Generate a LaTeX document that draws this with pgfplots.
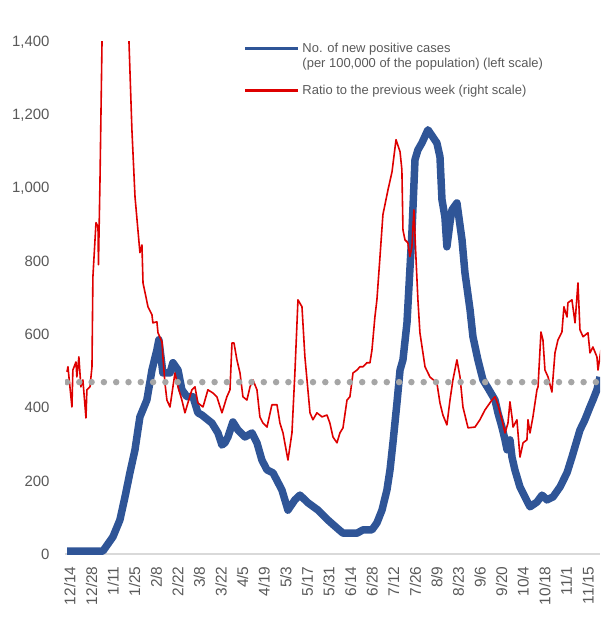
\documentclass[border=0pt]{standalone}
\usepackage{fontspec}
\setmainfont{Liberation Sans}
\usepackage{pgfplots}
\pgfplotsset{compat=1.18}
\definecolor{caseblue}{RGB}{47,85,151}
\definecolor{ratiored}{RGB}{222,0,0}
\definecolor{dotgray}{RGB}{166,166,166}
\definecolor{labelgray}{RGB}{89,89,89}
\definecolor{axisgray}{RGB}{217,217,217}

\begin{document}
\begin{tikzpicture}
\begin{axis}[
  scale only axis, width=535bp, height=512bp,
  xmin=-3.2, xmax=343.8, ymin=0, ymax=1400,
  axis x line*=bottom, axis y line*=left,
  x axis line style={draw=axisgray, line width=1.6bp},
  y axis line style={draw=none},
  major tick length=0pt,
  xtick={0,14,...,336},
  xticklabels={12/14,12/28,1/11,1/25,2/8,2/22,3/8,3/22,4/5,4/19,5/3,5/17,5/31,6/14,6/28,7/12,7/26,8/9,8/23,9/6,9/20,10/4,10/18,11/1,11/15},
  ytick={0,200,...,1400},
  /pgf/number format/assume math mode=true,
  /pgf/number format/1000 sep={,},
  tick label style={font=\fontsize{15}{17}\selectfont, text=labelgray},
  xticklabel style={rotate=90, anchor=east, xshift=-9bp, font=\fontsize{15.5}{17}\selectfont},
  yticklabel style={xshift=-12bp},
  legend style={draw=none, fill=none, inner sep=0pt, at={(axis description cs:0.334,1.0)}, anchor=north west,
    font=\fontsize{13}{15}\selectfont, text=labelgray, row sep=2.5bp,
    nodes={inner xsep=3bp, inner ysep=1bp}},
  legend cell align=left,
  legend image code/.code={\draw[#1, line width=2.6bp] (0bp,0bp) -- (53bp,0bp);},
]
% new positive cases per 100,000 (left scale)
\addplot[caseblue, line width=7.5bp, line join=round] coordinates {
(-1.9,8) (21.4,8) (27.9,47) (32.4,93) (35.7,156) (38.9,222) (42.2,285) (44.1,339) (45.4,375)
(49.9,421) (53.2,503) (56.4,558) (57.7,586) (60.3,495) (64.9,495) (66.8,523) (70.1,503)
(72.6,449) (75.9,430) (79.8,430) (83.0,386) (85.6,380) (92.1,358) (96.0,331) (98.6,298)
(100.5,304) (102.5,320) (105.7,361) (109.0,339) (113.5,320) (118.1,331) (121.3,304)
(124.5,257) (127.8,230) (131.7,222) (137.5,175) (141.4,120) (145.9,148) (149.2,161)
(154.4,140) (160.9,120) (167.3,93) (173.2,71) (177.1,57) (186.2,57) (190.1,66) (195.9,66)
(199.1,85) (202.4,120) (205.6,175) (207.6,230) (209.5,304) (212.1,413) (214.1,503)
(216.0,531) (218.6,632) (221.8,878) (223.8,1078) (225.7,1105) (228.3,1124) (232.2,1160)
(238.0,1124) (240.0,1086) (241.3,969) (243.2,922) (244.5,840) (246.5,906) (247.8,941)
(251.0,960) (254.3,859) (256.2,769) (259.5,668) (261.4,594) (264.6,531) (267.9,476)
(271.1,454) (275.7,421) (277.6,386) (280.2,347) (282.2,312) (283.5,285) (285.4,312)
(286.7,265) (288.6,230) (291.9,183) (295.1,156) (298.4,129) (302.9,142) (306.2,161)
(309.4,148) (313.3,156) (317.8,183) (322.4,222) (325.6,265) (328.9,312) (330.8,339)
(334.0,367) (337.3,402) (339.2,421) (341.8,449) (343.8,484)
};
\addlegendentry{No. of new positive cases}
\addlegendimage{empty legend}
\addlegendentry{(per 100,000 of the population) (left scale)}
\addlegendimage{empty legend}
\addlegendentry{\rule{0pt}{5bp}}
% ratio to the previous week (right scale, drawn in left-scale units)
\addplot[ratiored, line width=1.6bp, line join=round] coordinates {
(-1.9,498) (-1.3,512) (1.3,402) (1.9,503) (3.9,525) (4.5,484) (5.8,539) (7.1,457) (8.4,476)
(10.4,372) (11.0,449) (13.0,457) (14.3,512) (14.9,758) (16.9,906) (18.2,895) (18.5,791)
(19.5,1023) (21.5,1600) (24,2500) (35,2200) (38.3,1400) (40.2,1160) (42.2,977) (44.1,886)
(45.4,824) (46.7,845) (47.4,741) (49.3,703) (50.6,676) (53.2,654) (53.8,632) (56.4,635)
(57.1,605) (59.7,580) (60.3,539) (61.6,468) (62.9,421) (64.9,402) (66.8,457) (68.1,495)
(70.1,457) (72.6,421) (74.6,386) (76.5,413) (79.1,449) (81.1,457) (83.0,413) (86.3,402)
(89.5,449) (92.8,440) (95.3,430) (98.6,386) (101.8,430) (103.8,449) (105.1,577) (106.4,577)
(108.3,531) (110.3,495) (112.2,430) (114.8,421) (116.8,457) (118.7,476) (121.3,449)
(123.2,375) (125.2,358) (127.8,347) (131.0,408) (134.3,408) (136.2,358) (138.2,331)
(141.4,257) (144.0,331) (145.9,495) (147.9,695) (150.5,676) (152.4,539) (155.7,386)
(157.6,367) (160.2,386) (163.5,375) (166.7,380) (168.6,358) (170.6,320) (173.2,304)
(175.1,331) (177.1,345) (179.7,421) (181.6,430) (183.6,495) (186.2,503) (188.1,512)
(190.1,512) (192.6,523) (194.6,523) (195.9,558) (197.8,648) (199.1,695) (201.1,813)
(203.0,928) (206.3,996) (208.9,1045) (211.5,1133) (214.1,1100) (215.3,1051) (216.0,886)
(217.3,859) (219.2,851) (220.5,813) (221.8,840) (223.1,941) (224.4,813) (225.7,695)
(227.0,605) (230.3,512) (233.5,484) (238.0,468) (240.0,413) (241.9,380) (244.5,353)
(246.5,421) (248.4,476) (251.0,531) (253.0,484) (254.9,402) (258.2,345) (262.7,347)
(265.9,367) (269.2,394) (273.7,421) (275.7,430) (277.6,408) (280.2,367) (282.2,331)
(284.1,358) (285.4,416) (286.7,375) (287.4,347) (289.9,367) (291.9,265) (293.9,304)
(296.4,312) (297.1,367) (298.4,331) (300.3,375) (302.9,449) (303.6,457) (305.5,607)
(306.8,585) (308.1,503) (310.1,484) (312.6,443) (314.6,550) (316.5,585) (319.1,607)
(320.4,676) (322.4,648) (323.0,687) (325.6,695) (327.6,632) (329.5,741) (330.8,613)
(332.8,594) (336.0,605) (337.3,550) (339.2,566) (341.8,539) (342.5,503) (344.4,558)
};
\addlegendentry{Ratio to the previous week (right scale)}
% ratio = 1 reference level
\addplot[forget plot, dotgray, line width=6.5bp, line cap=round, dash pattern=on 0bp off 12.3bp]
  coordinates {(-1.9,470) (342.6,470)};
\end{axis}
\path (current axis.south west) ++(-65bp,-63bp) rectangle ++(602bp,617bp);
\end{tikzpicture}
\end{document}
